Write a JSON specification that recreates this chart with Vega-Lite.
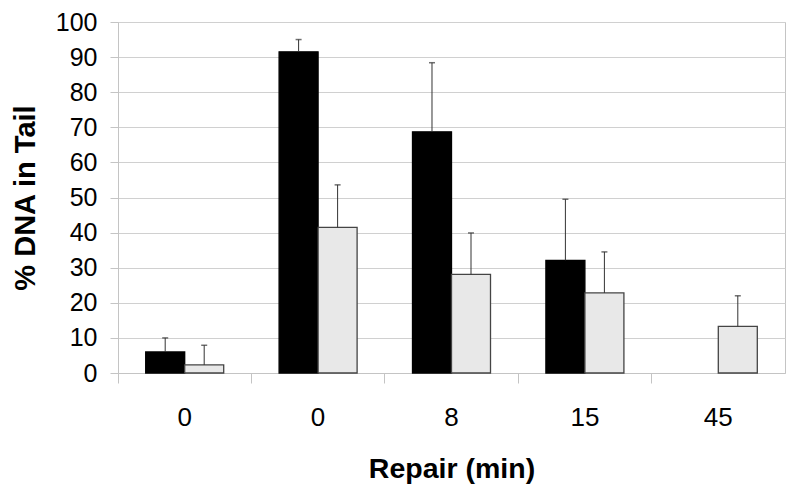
{
  "$schema": "https://vega.github.io/schema/vega-lite/v6.json",
  "autosize": "none",
  "width": 667,
  "height": 351,
  "padding": {"left": 118, "top": 22, "right": 15, "bottom": 119},
  "background": "white",
  "config": {
    "font": "Liberation Sans",
    "view": {"stroke": "#c4c4c4", "strokeWidth": 1},
    "axisY": {
      "values": [0, 10, 20, 30, 40, 50, 60, 70, 80, 90, 100],
      "labelOverlap": false,
      "labelFontSize": 25,
      "labelColor": "black",
      "labelPadding": 13,
      "tickSize": 8,
      "tickColor": "#c4c4c4",
      "domainColor": "#c4c4c4",
      "gridColor": "#d0d0d0",
      "titleFontSize": 29,
      "titleFontWeight": "bold",
      "titleColor": "black",
      "titlePadding": 15
    }
  },
  "data": {
    "values": [
      {"group": 1, "series": "A", "value": 6.0, "upper": 10.0},
      {"group": 1, "series": "B", "value": 2.3, "upper": 7.9},
      {"group": 2, "series": "A", "value": 91.5, "upper": 95.0},
      {"group": 2, "series": "B", "value": 41.5, "upper": 53.6},
      {"group": 3, "series": "A", "value": 68.7, "upper": 88.4},
      {"group": 3, "series": "B", "value": 28.1, "upper": 39.9},
      {"group": 4, "series": "A", "value": 32.1, "upper": 49.5},
      {"group": 4, "series": "B", "value": 22.8, "upper": 34.5},
      {"group": 5, "series": "B", "value": 13.3, "upper": 22.0}
    ]
  },
  "encoding": {
    "x": {
      "field": "group",
      "type": "ordinal",
      "scale": {"domain": [1, 2, 3, 4, 5], "paddingInner": 0, "paddingOuter": 0},
      "axis": {
        "title": "Repair (min)",
        "labelAngle": 0,
        "labelExpr": "['0','0','8','15','45'][datum.value-1]",
        "labelFontSize": 26,
        "labelColor": "black",
        "labelPadding": 21,
        "bandPosition": 0,
        "tickSize": 10,
        "tickColor": "#c4c4c4",
        "domainColor": "#c4c4c4",
        "grid": false,
        "titleFontSize": 28.5,
        "titleFontWeight": "bold",
        "titleColor": "black",
        "titlePadding": 24
      }
    },
    "xOffset": {
      "field": "series",
      "type": "nominal",
      "scale": {"domain": ["A", "B"], "paddingInner": 0, "paddingOuter": 0.71}
    }
  },
  "layer": [
    {
      "mark": {"type": "bar", "strokeWidth": 1.3},
      "encoding": {
        "y": {
          "field": "value",
          "type": "quantitative",
          "scale": {"domain": [0, 100], "nice": false},
          "axis": {"title": "% DNA in Tail"}
        },
        "fill": {
          "field": "series",
          "type": "nominal",
          "scale": {"domain": ["A", "B"], "range": ["#000000", "#e8e8e8"]},
          "legend": null
        },
        "stroke": {
          "field": "series",
          "type": "nominal",
          "scale": {"domain": ["A", "B"], "range": ["#000000", "#444444"]},
          "legend": null
        }
      }
    },
    {
      "mark": {"type": "rule", "color": "#333333", "strokeWidth": 1},
      "encoding": {
        "y": {"field": "value", "type": "quantitative", "axis": {"title": "% DNA in Tail"}},
        "y2": {"field": "upper"}
      }
    },
    {
      "mark": {"type": "tick", "color": "#333333", "thickness": 1.5, "size": 6},
      "encoding": {
        "y": {"field": "upper", "type": "quantitative", "axis": {"title": "% DNA in Tail"}}
      }
    }
  ]
}
